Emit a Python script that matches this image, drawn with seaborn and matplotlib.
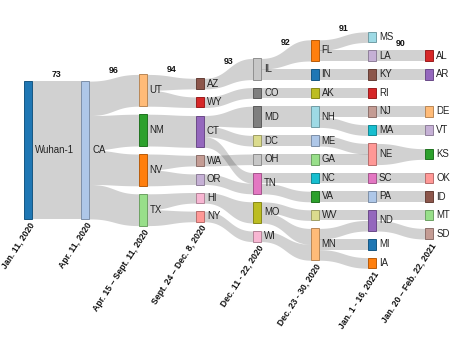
import numpy as np
import matplotlib
matplotlib.use("Agg")
import matplotlib.pyplot as plt
import seaborn as sns

# ---- data ----
COL_DATES = [
    "Jan. 11, 2020",
    "Apr. 11, 2020",
    "Apr. 15 – Sept. 11, 2020",
    "Sept. 24 – Dec. 8, 2020",
    "Dec. 11 - 22, 2020",
    "Dec. 23 - 30, 2020",
    "Jan. 1 - 16, 2021",
    "Jan. 20 – Feb. 22, 2021",
]
GAP_LABELS = [73, 96, 94, 93, 92, 91, 90]

# nodes per column and their sizes (units)
COL0 = ["Wuhan-1"]
SIZE0 = [13]
COL1 = ["CA"]
SIZE1 = [13]
COL2 = ["UT", "NM", "NV", "TX"]
SIZE2 = [3, 3, 3, 3]
COL3 = ["AZ", "WY", "CT", "WA", "OR", "HI", "NY"]
SIZE3 = [1, 1, 3, 1, 1, 1, 1]
COL4 = ["IL", "CO", "MD", "DC", "OH", "TN", "MO", "WI"]
SIZE4 = [2, 1, 2, 1, 1, 2, 2, 1]
COL5 = ["FL", "IN", "AK", "NH", "ME", "GA", "NC", "VA", "WV", "MN"]
SIZE5 = [2, 1, 1, 2, 1, 1, 1, 1, 1, 3]
COL6 = ["MS", "LA", "KY", "RI", "NJ", "MA", "NE", "SC", "PA", "ND", "MI", "IA"]
SIZE6 = [1, 1, 1, 1, 1, 1, 2, 1, 1, 2, 1, 1]
COL7 = ["AL", "AR", "DE", "VT", "KS", "OK", "ID", "MT", "SD"]
SIZE7 = [1, 1, 1, 1, 1, 1, 1, 1, 1]

LINK_SRC = ["Wuhan-1",
            "CA", "CA", "CA", "CA",
            "UT", "UT", "NM", "NV", "NV", "TX", "TX",
            "AZ", "WY", "CT", "CT", "CT", "WA", "OR", "HI", "NY",
            "IL", "IL", "CO", "MD", "DC", "OH", "TN", "TN", "MO", "MO", "WI",
            "FL", "FL", "IN", "AK", "NH", "NH", "ME", "GA", "NC", "VA", "WV", "MN", "MN", "MN",
            "LA", "KY", "NJ", "MA", "NE", "SC", "PA", "ND", "ND"]
LINK_TGT = ["CA",
            "UT", "NM", "NV", "TX",
            "AZ", "WY", "CT", "WA", "OR", "HI", "NY",
            "IL", "CO", "MD", "DC", "TN", "OH", "TN", "MO", "WI",
            "FL", "IN", "AK", "NH", "ME", "GA", "NC", "VA", "WV", "MN", "MN",
            "MS", "LA", "KY", "RI", "NJ", "MA", "NE", "NE", "SC", "PA", "ND", "ND", "MI", "IA",
            "AL", "AR", "DE", "VT", "KS", "OK", "ID", "MT", "SD"]

# order in which names were fed to the categorical colour scale
COLOR_ORDER = ["Wuhan-1", "CA", "NV", "UT", "NM", "TX", "WY", "NY", "CT", "OR",
               "AZ", "WA", "TN", "HI", "CO", "IL", "MO", "DC", "NC", "NH",
               "IN", "ME", "FL", "MN", "VA", "GA", "RI", "NE", "ND", "LA",
               "KY", "NJ", "SC", "WI", "MD", "OH", "AK", "WV", "MA", "MS",
               "MI", "PA", "IA", "DE", "KS", "MT", "AL", "OK", "AR", "VT", "ID", "SD"]

columns = [(COL0, SIZE0), (COL1, SIZE1), (COL2, SIZE2), (COL3, SIZE3),
           (COL4, SIZE4), (COL5, SIZE5), (COL6, SIZE6), (COL7, SIZE7)]

# ---- layout ----
UNIT, PAD, NODE_W = 10.6, 8.0, 8.0
X0, DX, YC = 24.0, 57.3, 150.0

pal = sns.color_palette("tab20")
color = {n: pal[i % 20] for i, n in enumerate(COLOR_ORDER)}

nodes = {}
for ci, (names, sizes) in enumerate(columns):
    total = sum(sizes) * UNIT + (len(names) - 1) * PAD
    y = YC - total / 2
    x = X0 + ci * DX
    for n, s in zip(names, sizes):
        nodes[n] = {"col": ci, "x0": x, "x1": x + NODE_W, "y0": y, "y1": y + s * UNIT}
        y += s * UNIT + PAD


def mid(n):
    return (nodes[n]["y0"] + nodes[n]["y1"]) / 2


links = [{"s": s, "t": t} for s, t in zip(LINK_SRC, LINK_TGT)]


def set_source_ends():
    for n in nodes:
        outs = sorted([l for l in links if l["s"] == n], key=lambda l: mid(l["t"]))
        h = (nodes[n]["y1"] - nodes[n]["y0"]) / max(len(outs), 1)
        for k, l in enumerate(outs):
            l["sy0"] = nodes[n]["y0"] + k * h
            l["sy1"] = l["sy0"] + h


set_source_ends()

# last column: line up with the incoming links, then push apart
last = COL7
for n in last:
    ins = [l for l in links if l["t"] == n]
    c = np.mean([(l["sy0"] + l["sy1"]) / 2 for l in ins])
    h = nodes[n]["y1"] - nodes[n]["y0"]
    nodes[n]["y0"], nodes[n]["y1"] = c - h / 2, c + h / 2
prev = -1e9
for n in sorted(last, key=mid):
    h = nodes[n]["y1"] - nodes[n]["y0"]
    if nodes[n]["y0"] < prev + PAD:
        nodes[n]["y0"] = prev + PAD
        nodes[n]["y1"] = nodes[n]["y0"] + h
    prev = nodes[n]["y1"]
set_source_ends()

for n in nodes:
    ins = sorted([l for l in links if l["t"] == n], key=lambda l: (l["sy0"] + l["sy1"]) / 2)
    h = (nodes[n]["y1"] - nodes[n]["y0"]) / max(len(ins), 1)
    for k, l in enumerate(ins):
        l["ty0"] = nodes[n]["y0"] + k * h
        l["ty1"] = l["ty0"] + h

# ---- drawing ----
sns.set_theme(style="white")
plt.rcParams["font.family"] = ["Liberation Sans", "DejaVu Sans"]

fig = plt.figure(figsize=(4.5, 3.53), dpi=100)
ax = fig.add_axes([0, 0, 1, 1])
ax.set_xlim(0, 450)
ax.set_ylim(353, 0)
ax.axis("off")

t = np.linspace(0, 1, 60)
for l in links:
    xa, xb = nodes[l["s"]]["x1"], nodes[l["t"]]["x0"]
    xm = (xa + xb) / 2
    xs = (1 - t) ** 3 * xa + 3 * (1 - t) ** 2 * t * xm + 3 * (1 - t) * t ** 2 * xm + t ** 3 * xb
    ease = 3 * t ** 2 - 2 * t ** 3
    top = l["sy0"] + (l["ty0"] - l["sy0"]) * ease
    bot = l["sy1"] + (l["ty1"] - l["sy1"]) * ease
    ax.fill_between(xs, top, bot, color="black", alpha=0.18, lw=0, zorder=1)

for n, d in nodes.items():
    c = np.array(color[n])
    ax.bar(d["x0"], d["y1"] - d["y0"], bottom=d["y0"], width=NODE_W, align="edge",
           color=c, edgecolor=c * 0.72, linewidth=0.7, zorder=3)
    ax.text(d["x1"] + 3, mid(n), n, va="center", ha="left", fontsize=6.9, color="#222222", zorder=4)

# similarity labels above the top link of each gap
for gi, val in enumerate(GAP_LABELS):
    gl = [l for l in links if nodes[l["s"]]["col"] == gi]
    ytop = min((l["sy0"] + l["ty0"]) / 2 for l in gl)
    xm = X0 + gi * DX + NODE_W + (DX - NODE_W) / 2
    ax.text(xm, ytop - 2.5, str(val), ha="center", va="bottom", fontsize=6.3,
            fontweight="bold", color="#111111")

# date labels under each column
for ci, (names, _) in enumerate(columns):
    bottom = max(nodes[n]["y1"] for n in names)
    xc = X0 + ci * DX + NODE_W / 2 + 1
    ax.text(xc, bottom + 2, COL_DATES[ci], rotation=57, rotation_mode="anchor",
            ha="right", va="top", fontsize=6.2, fontweight="bold", color="#111111")

fig.savefig("out.png", dpi=100)
